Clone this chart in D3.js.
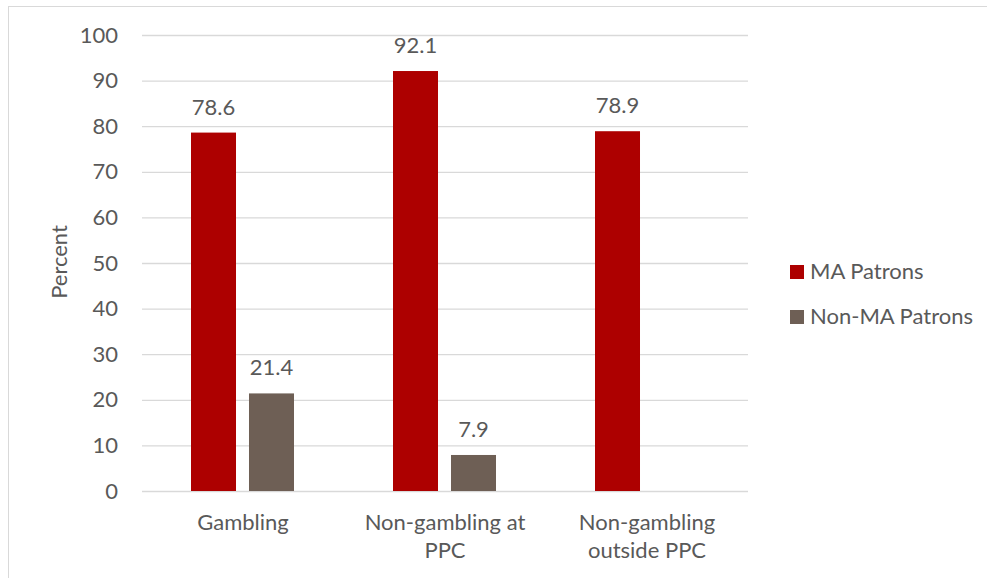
<!DOCTYPE html>
<html>
<head>
<meta charset="utf-8">
<script src="https://cdn.jsdelivr.net/npm/d3@7"></script>
<style>
  body { margin: 0; background: #fff; }
  svg text { font-family: Lato, "Open Sans", sans-serif; fill: #595959; }
</style>
</head>
<body>
<svg id="chart" width="987" height="578"></svg>
<script>
// Share of patrons by activity type
const categories = [["Gambling"], ["Non-gambling at", "PPC"], ["Non-gambling", "outside PPC"]];
const seriesNames = ["MA Patrons", "Non-MA Patrons"];
const maPatrons = [78.6, 92.1, 78.9];
const nonMaPatrons = [21.4, 7.9, null];
const yTicks = [0, 10, 20, 30, 40, 50, 60, 70, 80, 90, 100];
const colors = ["#AD0000", "#6E5F55"];
const FS = 22;

const svg = d3.select("#chart");
const plot = { left: 142, right: 748, top: 35, bottom: 491 };

// outer frame
svg.append("rect")
  .attr("x", 8.5).attr("y", 6.5)
  .attr("width", 1000).attr("height", 600)
  .attr("fill", "none").attr("stroke", "#D9D9D9").attr("stroke-width", 1);

const y = d3.scaleLinear().domain([0, 100]).range([plot.bottom, plot.top]);
const x0 = d3.scaleBand().domain(d3.range(categories.length)).range([plot.left, plot.right]);
const x1 = d3.scaleBand().domain(seriesNames).range([49, 152]).paddingInner(0.224);

// gridlines and tick labels
const yAxis = d3.axisLeft(y).tickValues(yTicks).tickSize(-(plot.right - plot.left)).tickPadding(24);
const gy = svg.append("g").attr("transform", `translate(${plot.left},0)`).call(yAxis);
gy.select(".domain").remove();
gy.selectAll(".tick line").attr("stroke", "#D9D9D9").attr("stroke-width", 1.3);
gy.selectAll(".tick text").attr("font-size", FS).style("font-family", "Lato, 'Open Sans', sans-serif").attr("fill", "#595959");

const rows = categories.map((c, i) => ({ i, values: [maPatrons[i], nonMaPatrons[i]] }));

const groups = svg.append("g").selectAll("g").data(rows).join("g")
  .attr("transform", d => `translate(${x0(d.i)},0)`);

const bars = groups.selectAll("g.bar")
  .data(d => d.values.map((v, k) => ({ v, k })).filter(e => e.v != null))
  .join("g").attr("class", "bar");

bars.append("rect")
  .attr("x", e => x1(seriesNames[e.k]))
  .attr("y", e => y(e.v))
  .attr("width", x1.bandwidth())
  .attr("height", e => y(0) - y(e.v))
  .attr("fill", e => colors[e.k]);

bars.append("text")
  .attr("x", e => x1(seriesNames[e.k]) + x1.bandwidth() / 2)
  .attr("y", e => y(e.v) - 18)
  .attr("text-anchor", "middle")
  .attr("font-size", FS)
  .text(e => e.v.toFixed(1));

// category labels
const xl = svg.append("g").selectAll("text").data(categories).join("text")
  .attr("text-anchor", "middle")
  .attr("font-size", FS)
  .attr("x", (d, i) => x0(i) + x0.bandwidth() / 2)
  .attr("y", 530);
xl.selectAll("tspan").data(d => d).join("tspan")
  .attr("x", function () { return this.parentNode.getAttribute("x"); })
  .attr("dy", (d, j) => j === 0 ? 0 : 28)
  .text(d => d);

// y axis title
svg.append("text")
  .attr("transform", "translate(67,262) rotate(-90)")
  .attr("text-anchor", "middle")
  .attr("font-size", FS)
  .text("Percent");

// legend
const legend = svg.append("g").selectAll("g").data(seriesNames).join("g")
  .attr("transform", (d, i) => `translate(790,${265 + i * 45})`);
legend.append("rect").attr("width", 14).attr("height", 14).attr("fill", (d, i) => colors[i]);
legend.append("text").attr("x", 20).attr("y", 14).attr("font-size", FS).text(d => d);
</script>
</body>
</html>
